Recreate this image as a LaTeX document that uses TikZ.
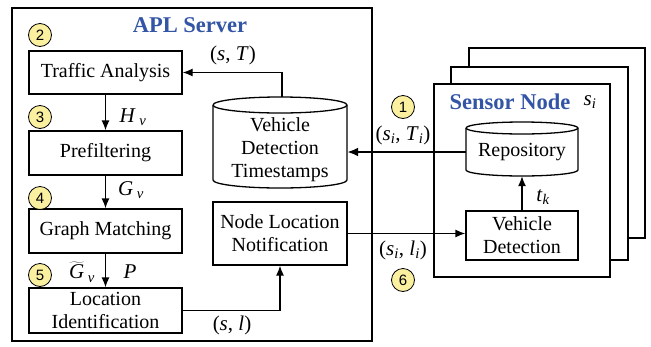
\documentclass[tikz,border=0pt]{standalone}
\usepackage{fontspec}
\setmainfont{Liberation Serif}
\newfontfamily\numfont{Liberation Sans}
\usetikzlibrary{arrows.meta}
\definecolor{titleblue}{RGB}{51,85,165}
\definecolor{numfill}{RGB}{250,240,160}
\newcommand\mi[1]{\textit{#1}}
\newcommand\sbi[1]{\textsubscript{\textit{#1}}}
\begin{document}
\begin{tikzpicture}[x=1pt,y=-1pt,
  box/.style={draw, line width=1.3pt, minimum width=153pt, align=center, inner sep=0pt,
    font=\fontsize{20}{23}\selectfont},
  plain/.style={align=center, inner sep=0pt, font=\fontsize{20}{23}\selectfont},
  arr/.style={line width=1.3pt, -{Latex[length=10pt,width=8pt]}},
  thickarr/.style={line width=2pt, -{Latex[length=11pt,width=9pt]}},
  lab/.style={inner sep=0pt, font=\fontsize{21}{24}\selectfont},
  num/.style={circle, draw, line width=0.8pt, fill=numfill, minimum size=23pt, inner sep=0pt,
    font=\numfont\fontsize{15}{15}\selectfont},
  title/.style={inner sep=0pt, text=titleblue, font=\fontsize{22.5}{24}\selectfont\bfseries},
  frame/.style={draw, line width=1.3pt, fill=white}
]
\useasboundingbox (0,0) rectangle (651,346);

% APL server frame
\draw[line width=1.6pt] (12,8) rectangle (372,341);
\node[title] (apl) at (190,25) {APL Server};

% left column
\node[box, minimum height=43pt] (ta) at (105.5,72.5) {Traffic Analysis};
\node[box, minimum height=44pt] (pf) at (105.5,153) {Prefiltering};
\node[box, minimum height=44pt] (gm) at (105.5,231) {Graph Matching};
\node[box, minimum height=45pt] (li) at (105.5,310.5) {Location\\Identification};

% node location notification
\node[box, minimum width=134pt, minimum height=63pt] (nl) at (280,233.5) {Node Location\\Notification};

% vehicle detection timestamps cylinder
\draw[line width=1.3pt] (213,105) -- (213,180) arc[start angle=180,end angle=360,x radius=67pt,y radius=8pt]
  -- (347,105) arc[start angle=0,end angle=180,x radius=67pt,y radius=8pt];
\draw[line width=1.3pt] (213,105) arc[start angle=180,end angle=360,x radius=67pt,y radius=8pt];
\node[plain, minimum width=134pt, minimum height=80pt] (vdt) at (280,150) {Vehicle\\Detection\\Timestamps};
\coordinate (vdttop) at (282,97);

% sensor node stack
\draw[frame] (469,48) rectangle (645,238);
\draw[frame] (451,67) rectangle (628,260);
\draw[frame] (434,84) rectangle (610,277);
\node[title] (sn) at (510,102) {Sensor Node};
\node[lab] (si) at (590,102) {\mi{s}\sbi{i}};

% repository cylinder
\draw[line width=1.3pt] (466,128) -- (466,170) arc[start angle=180,end angle=360,x radius=56pt,y radius=6pt]
  -- (578,128) arc[start angle=0,end angle=180,x radius=56pt,y radius=6pt];
\draw[line width=1.3pt] (466,128) arc[start angle=180,end angle=360,x radius=56pt,y radius=6pt];
\node[plain, minimum width=112pt, minimum height=48pt] (repo) at (522,152) {Repository};

% vehicle detection
\node[box, minimum width=112pt, minimum height=49pt] (vd) at (522,235.5) {Vehicle\\Detection};

% connectors
\draw[arr] (vdttop) |- (ta.east);
\draw[arr] (ta.south) -- (pf.north);
\draw[arr] (pf.south) -- (gm.north);
\draw[arr] (gm.south) -- (li.north);
\draw[arr] (li.east) -| (nl.south);
\draw[thickarr] (repo.west) -- (repo.west -| vdt.east);
\draw[arr] (nl.east) -- (nl.east -| vd.west);
\draw[arr] (vd.north) -- (repo.south);

% labels
\node[lab] (lsT) at (233,55) {(\mi{s}, \mi{T})};
\node[lab] (lHv) at (133,117) {\mi{H}\,\sbi{v}};
\node[lab] (lGv) at (131,190) {\mi{G}\,\sbi{v}};
\node[lab] (lGt) at (82,272) {$\widetilde{\mbox{\mi{G}}}$\,\sbi{v}};
\node[lab] (lP) at (130,272) {\mi{P}};
\node[lab] (lsl) at (232,325) {(\mi{s}, \mi{l})};
\node[lab] (lsiTi) at (403,135) {(\mi{s}\sbi{i}, \mi{T}\sbi{i})};
\node[lab] (lsili) at (403,250) {(\mi{s}\sbi{i}, \mi{l}\sbi{i})};
\node[lab] (ltk) at (543,197) {\mi{t}\sbi{k}};

% step numbers
\node[num] (n2) at (40,35) {2};
\node[num] (n3) at (40,117) {3};
\node[num] (n4) at (40,198) {4};
\node[num] (n5) at (40,275) {5};
\node[num] (n1) at (403,107) {1};
\node[num] (n6) at (403,280) {6};
\end{tikzpicture}
\end{document}
